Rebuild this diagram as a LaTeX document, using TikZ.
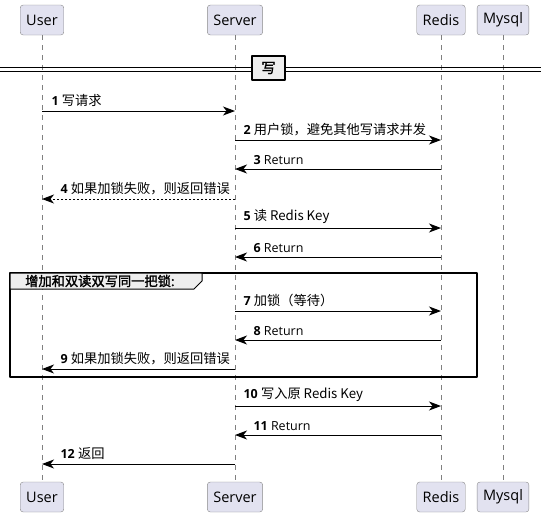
\documentclass[tikz,border=0pt]{standalone}
\usepackage{fontspec}
\setmainfont{Open Sans}
\newfontfamily\cjk[Scale=1.06]{Noto Sans CJK SC}
\newfontfamily\cjkb[Scale=1.06,FakeBold=1.6]{Noto Sans CJK SC}
\usetikzlibrary{arrows.meta}
\definecolor{partfill}{HTML}{E2E2F0}
\definecolor{partline}{HTML}{8A8A8A}
\definecolor{groupfill}{HTML}{EEEEEE}
\begin{document}
\begin{tikzpicture}[x=1pt, y=-1pt, line join=round, >={Stealth[length=12pt,width=9pt,inset=3.5pt]},
  part/.style={draw=partline, fill=partfill, rounded corners=3pt, minimum height=30pt, inner xsep=6pt, font=\fontsize{14.5}{16}\selectfont},
  life/.style={draw=gray, dash pattern=on 5pt off 5pt, line width=0.8pt},
  msg/.style={->, line width=1pt},
  lbl/.style={anchor=south west, inner sep=0pt, font=\fontsize{12.5}{15}\selectfont}]
  \useasboundingbox (0,0) rectangle (541,517);
  \node[part] (userT) at (42,20) {User};
  \node[part] (serverT) at (235,20) {Server};
  \node[part] (redisT) at (441,20) {Redis};
  \node[part] (mysqlT) at (503,20) {Mysql};
  \node[part] (userB) at (42,497) {User};
  \node[part] (serverB) at (235,497) {Server};
  \node[part] (redisB) at (441,497) {Redis};
  \node[part] (mysqlB) at (503,497) {Mysql};
  \draw[life] (userT) -- (userB);
  \draw[life] (serverT) -- (serverB);
  \draw[life] (redisT) -- (redisB);
  \draw[life] (mysqlT) -- (mysqlB);
  \draw[line width=1pt] (0,67) -- (541,67) (0,71) -- (541,71);
  \node[draw, line width=1.8pt, fill=groupfill, minimum width=33pt, minimum height=24pt, inner sep=0pt, font=\fontsize{13.5}{15}\selectfont] (sepW) at (268.5,68) {\cjkb 写};
  \draw[msg] (userT |- 0,111) -- (serverT |- 0,111) node[lbl, pos=0, xshift=9pt, yshift=4pt] (m1) {\textbf{1} \cjk 写请求};
  \draw[msg] (serverT |- 0,140) -- (redisT |- 0,140) node[lbl, pos=0, xshift=8pt, yshift=4pt] (m2) {\textbf{2} \cjk 用户锁，避免其他写请求并发};
  \draw[msg] (redisT |- 0,169) -- (serverT |- 0,169) node[lbl, pos=1, xshift=18pt, yshift=4pt] (m3) {\textbf{3} Return};
  \draw[msg, dash pattern=on 2pt off 2pt] (serverT |- 0,199) -- (userT |- 0,199) node[lbl, pos=1, xshift=18pt, yshift=4pt] (m4) {\textbf{4} \cjk 如果加锁失败，则返回错误};
  \draw[msg] (serverT |- 0,228) -- (redisT |- 0,228) node[lbl, pos=0, xshift=8pt, yshift=4pt] (m5) {\textbf{5} \cjk 读 Redis Key};
  \draw[msg] (redisT |- 0,257) -- (serverT |- 0,257) node[lbl, pos=1, xshift=18pt, yshift=4pt] (m6) {\textbf{6} Return};
  \draw[line width=1.5pt] (10,273) rectangle (477,377);
  \draw[line width=1pt, fill=groupfill] (10,273) -- (202,273) -- (202,281) -- (194,289) -- (10,289) -- cycle;
  \node[anchor=west, inner sep=0pt, font=\fontsize{12.5}{15}\selectfont] (grpT) at (25,281) {\cjkb 增加和双读双写同一把锁:};
  \draw[msg] (serverT |- 0,311) -- (redisT |- 0,311) node[lbl, pos=0, xshift=8pt, yshift=4pt] (m7) {\textbf{7} \cjk 加锁（等待）};
  \draw[msg] (redisT |- 0,340) -- (serverT |- 0,340) node[lbl, pos=1, xshift=18pt, yshift=4pt] (m8) {\textbf{8} Return};
  \draw[msg] (serverT |- 0,369) -- (userT |- 0,369) node[lbl, pos=1, xshift=18pt, yshift=4pt] (m9) {\textbf{9} \cjk 如果加锁失败，则返回错误};
  \draw[msg] (serverT |- 0,406) -- (redisT |- 0,406) node[lbl, pos=0, xshift=8pt, yshift=4pt] (m10) {\textbf{10} \cjk 写入原 Redis Key};
  \draw[msg] (redisT |- 0,435) -- (serverT |- 0,435) node[lbl, pos=1, xshift=18pt, yshift=4pt] (m11) {\textbf{11} Return};
  \draw[msg] (serverT |- 0,464) -- (userT |- 0,464) node[lbl, pos=1, xshift=18pt, yshift=4pt] (m12) {\textbf{12} \cjk 返回};
\end{tikzpicture}
\end{document}
